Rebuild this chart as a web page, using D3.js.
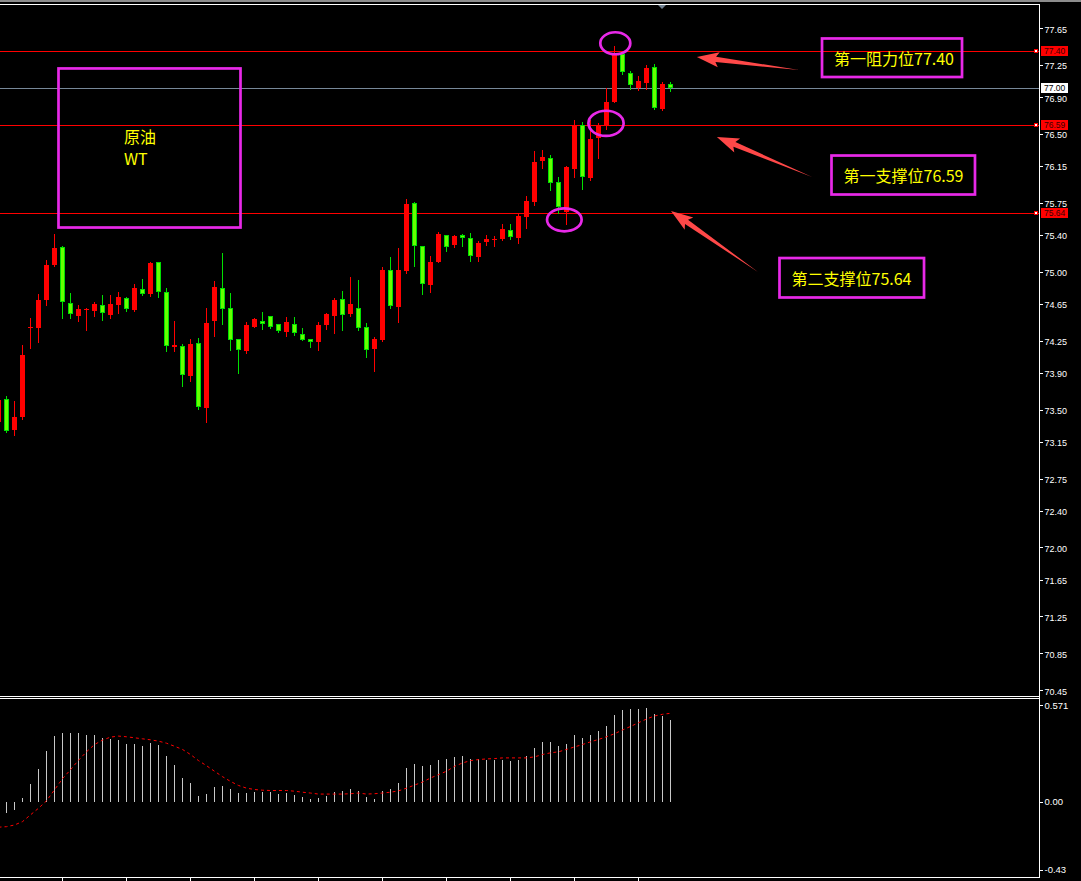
<!DOCTYPE html>
<html><head><meta charset="utf-8">
<script src="https://cdn.jsdelivr.net/npm/d3@7"></script>
<style>html,body{margin:0;padding:0;background:#000;overflow:hidden}</style>
</head><body><svg id="c" width="1081" height="881"></svg>
<script>
// ---------- DATA ----------
const firstBar = -1;
const opens  = [73.36,73.61,73.28,73.42,74.39,74.39,74.69,75.07,75.27,74.66,74.52,74.58,74.57,74.64,74.53,74.64,74.71,74.58,74.81,74.76,75.10,74.78,74.18,74.19,73.87,74.22,73.52,74.46,74.82,74.60,74.27,74.14,74.40,74.46,74.52,74.43,74.34,74.43,74.32,74.27,74.24,74.42,74.52,74.70,74.54,74.61,74.40,74.16,74.26,75.02,74.62,75.01,75.75,75.28,74.85,75.11,75.40,75.29,75.40,75.37,75.16,75.32,75.34,75.35,75.45,75.37,75.59,75.76,76.20,76.24,75.97,75.65,76.12,76.60,76.02,76.45,76.58,76.85,77.37,77.16,77.00,77.05,77.23,76.77,77.04];
const highs  = [73.63,73.65,73.59,74.20,74.50,74.76,75.13,75.41,75.28,74.77,74.64,74.61,74.67,74.75,74.75,74.78,74.72,74.87,74.92,75.10,75.11,74.82,74.46,74.21,74.27,74.28,74.60,74.90,75.20,74.77,74.27,74.45,74.50,74.56,74.52,74.43,74.51,74.51,74.39,74.27,74.45,74.55,74.71,74.79,74.94,74.91,74.44,74.29,75.05,75.16,75.26,75.79,75.76,75.28,75.17,75.43,75.40,75.40,75.41,75.42,75.33,75.40,75.39,75.52,75.52,75.63,75.82,76.31,76.32,76.27,76.03,76.15,76.65,76.63,76.65,76.62,77.00,77.45,77.38,77.18,77.13,77.25,77.26,77.06,77.06];
const lows   = [73.34,73.26,73.22,73.40,74.17,74.24,74.64,75.06,74.50,74.50,74.46,74.37,74.52,74.47,74.50,74.55,74.57,74.57,74.75,74.73,74.72,74.14,74.14,73.76,73.81,73.51,73.37,74.30,74.43,74.15,73.90,74.12,74.40,74.38,74.39,74.34,74.30,74.31,74.26,74.18,74.15,74.38,74.33,74.36,74.52,74.37,74.07,73.92,74.25,74.61,74.45,74.98,75.06,74.76,74.78,75.10,75.23,75.27,75.28,75.12,75.12,75.29,75.28,75.34,75.35,75.31,75.47,75.72,76.13,75.89,75.64,75.52,76.03,75.90,76.00,76.24,76.55,76.85,77.15,76.99,76.98,76.99,76.77,76.76,76.97];
const closes = [73.60,73.27,73.42,74.09,74.40,74.69,75.07,75.26,74.67,74.54,74.59,74.59,74.65,74.55,74.65,74.72,74.59,74.82,74.76,75.09,74.78,74.19,74.20,73.88,74.21,73.53,74.44,74.83,74.59,74.26,74.15,74.42,74.49,74.43,74.40,74.35,74.45,74.33,74.26,74.23,74.42,74.54,74.69,74.53,74.65,74.39,74.15,74.27,75.02,74.63,75.02,75.74,75.28,74.87,75.10,75.41,75.27,75.39,75.37,75.17,75.31,75.35,75.35,75.46,75.38,75.60,75.77,76.19,76.25,75.96,75.70,76.14,76.59,76.03,76.44,76.58,76.85,77.36,77.17,77.03,77.07,77.22,76.78,77.04,77.00];
const macdHist = [null,-0.071,-0.048,0.022,0.105,0.194,0.296,0.385,0.403,0.403,0.403,0.391,0.391,0.373,0.367,0.361,0.343,0.343,0.331,0.349,0.337,0.272,0.218,0.141,0.111,0.034,0.046,0.087,0.093,0.075,0.052,0.052,0.058,0.058,0.058,0.046,0.052,0.040,0.028,0.016,0.022,0.034,0.058,0.064,0.075,0.064,0.028,0.016,0.064,0.075,0.111,0.200,0.224,0.212,0.218,0.248,0.254,0.266,0.272,0.254,0.254,0.248,0.248,0.248,0.242,0.248,0.272,0.319,0.355,0.355,0.331,0.343,0.391,0.373,0.391,0.415,0.444,0.510,0.540,0.546,0.546,0.551,0.516,0.504,0.480];
const macdSignal = [-0.152,-0.149,-0.139,-0.119,-0.079,-0.040,0.004,0.069,0.135,0.188,0.244,0.294,0.337,0.363,0.381,0.387,0.383,0.377,0.371,0.365,0.357,0.345,0.327,0.308,0.278,0.242,0.212,0.179,0.147,0.119,0.095,0.079,0.071,0.067,0.065,0.065,0.065,0.061,0.055,0.050,0.044,0.044,0.044,0.044,0.046,0.050,0.044,0.046,0.050,0.055,0.063,0.079,0.097,0.115,0.139,0.159,0.179,0.208,0.228,0.242,0.248,0.252,0.254,0.258,0.258,0.258,0.258,0.264,0.278,0.288,0.294,0.308,0.323,0.337,0.353,0.367,0.383,0.401,0.423,0.444,0.466,0.488,0.506,0.516,0.522];
const priceTicks = [77.65,77.25,76.90,76.50,76.15,75.75,75.40,75.00,74.65,74.25,73.90,73.50,73.15,72.75,72.40,72.00,71.65,71.25,70.85,70.45];
const macdTicks = [0.571, 0, -0.43];
const macdTickLabels = ["0.571","0.00","-0.43"];
const levels = [77.40, 77.00, 76.59, 75.64];
const levelKinds = ["line","last","line","line"];
const noteTexts = ["第一阻力位77.40","第一支撑位76.59","第二支撑位75.64"];
const titleLines = ["原油","WT"];
const timeTickBars = [7,15,23,31,39,47,55,63,71,79];

// annotation anchors in data space (bar index, price)
const noteBoxes = [
  {i0:101.94,p0:77.536,i1:119.44,p1:77.117},
  {i0:103.125,p0:76.263,i1:121.06,p1:75.839},
  {i0:96.625,p0:75.148,i1:114.69,p1:74.719}
];
const titleBox = {i0:6.5,p0:77.21,i1:29.25,p1:75.48};
const titleAnchor = [{i:14.69,p:76.40},{i:14.69,p:76.16}];
const ellipses = [
  {i:76.1,p:77.484,rx:15,ry:11},
  {i:74.94,p:76.613,rx:17.6,ry:12.6},
  {i:69.73,p:75.564,rx:17.3,ry:11.5}
];
const arrows = [
  {ti:86.3,tp:77.335,si:99.06,sp:77.193},
  {ti:88.8,tp:76.464,si:100.7,sp:76.03},
  {ti:83.06,tp:75.66,si:93.94,sp:74.996}
];

// ---------- LAYOUT ----------
const W=1081, H=881, axisX=1039, mainTop=4.5, mainBot=696.5, subTop=698.5, subBot=877.5;
const MAG="#e829e8", YEL="#ffff00", RED="#ff0000", GRN_O="#00e000", GRN_F="#66ff00";
const svg=d3.select("#c");
svg.append("rect").attr("width",W).attr("height",H).attr("fill","#000");
svg.append("rect").attr("width",W).attr("height",2).attr("fill","#8c8c8c");

const x=d3.scaleLinear().domain([0,83]).range([6.5,670.5]);
const y=d3.scaleLinear().domain([70.45,77.65]).range([690,28]);
const m=d3.scaleLinear().domain([0,0.571]).range([801.5,705]);

const defs=svg.append("defs");
defs.append("clipPath").attr("id","cm").append("rect").attr("x",0).attr("y",5).attr("width",axisX).attr("height",691);
defs.append("clipPath").attr("id","cs").append("rect").attr("x",0).attr("y",699).attr("width",axisX).attr("height",178);

// frames
const fr=svg.append("g").attr("stroke","#fff").attr("shape-rendering","crispEdges");
fr.append("line").attr("x1",0).attr("x2",axisX+0.5).attr("y1",mainTop).attr("y2",mainTop);
fr.append("line").attr("x1",0).attr("x2",axisX+0.5).attr("y1",mainBot).attr("y2",mainBot);
fr.append("line").attr("x1",0).attr("x2",axisX+0.5).attr("y1",subTop).attr("y2",subTop);
fr.append("line").attr("x1",0).attr("x2",axisX+0.5).attr("y1",subBot).attr("y2",subBot);
fr.append("line").attr("x1",axisX+0.5).attr("x2",axisX+0.5).attr("y1",mainTop).attr("y2",subBot);
fr.selectAll("line.tt").data(timeTickBars).join("line").attr("class","tt")
  .attr("x1",d=>x(d)).attr("x2",d=>x(d)).attr("y1",subBot).attr("y2",H);

// shift marker
svg.append("path").attr("d","M658,5L666,5L662,9Z").attr("fill","#708090");

const gm=svg.append("g").attr("clip-path","url(#cm)");

// level lines
gm.selectAll("line.lv").data(levels).join("line").attr("class","lv")
  .attr("x1",0).attr("x2",axisX).attr("y1",d=>Math.round(y(d))+0.5).attr("y2",d=>Math.round(y(d))+0.5)
  .attr("stroke",(d,k)=>levelKinds[k]==="last"?"#778899":RED).attr("shape-rendering","crispEdges");

// candles
const bars=d3.range(opens.length).map(k=>({i:firstBar+k,o:opens[k],h:highs[k],l:lows[k],c:closes[k]}));
const cg=gm.append("g").attr("shape-rendering","crispEdges");
cg.selectAll("line.wk").data(bars).join("line").attr("class","wk")
  .attr("x1",d=>x(d.i)).attr("x2",d=>x(d.i))
  .attr("y1",d=>Math.round(y(d.h))).attr("y2",d=>Math.round(y(d.l))+1)
  .attr("stroke",d=>d.c>=d.o?RED:GRN_O);
const bt=d=>Math.round(y(Math.max(d.o,d.c)));
const bh=d=>Math.max(1,Math.round(y(Math.min(d.o,d.c)))-bt(d));
cg.selectAll("rect.bo").data(bars).join("rect").attr("class","bo")
  .attr("x",d=>x(d.i)-2.5).attr("width",5).attr("y",bt).attr("height",bh)
  .attr("fill",d=>d.c>=d.o?RED:GRN_O);
cg.selectAll("rect.bi").data(bars.filter(d=>d.c<d.o&&bh(d)>2)).join("rect").attr("class","bi")
  .attr("x",d=>x(d.i)-1.5).attr("width",3).attr("y",d=>bt(d)+1).attr("height",d=>bh(d)-2)
  .attr("fill",GRN_F);

// annotations
const an=gm.append("g");
const rectOf=b=>({x:x(b.i0),y:y(b.p0),w:x(b.i1)-x(b.i0),h:y(b.p1)-y(b.p0)});
[titleBox,...noteBoxes].forEach(b=>{const r=rectOf(b);
  an.append("rect").attr("x",r.x).attr("y",r.y).attr("width",r.w).attr("height",r.h)
    .attr("fill","none").attr("stroke",MAG).attr("stroke-width",2.7);});
an.selectAll("text.tl").data(titleLines).join("text").attr("class","tl")
  .attr("x",(d,k)=>x(titleAnchor[k].i)).attr("y",(d,k)=>y(titleAnchor[k].p))
  .attr("fill",YEL).attr("font-family","'Noto Sans CJK SC','Noto Sans',sans-serif").attr("font-size",16).text(d=>d);
an.selectAll("text.nt").data(noteTexts).join("text").attr("class","nt")
  .attr("x",(d,k)=>x(noteBoxes[k].i0)+12).attr("y",(d,k)=>y(noteBoxes[k].p0)+26.5)
  .attr("fill",YEL).attr("font-family","'Noto Sans CJK SC','Noto Sans',sans-serif").attr("font-size",16).text(d=>d);
an.selectAll("ellipse").data(ellipses).join("ellipse")
  .attr("cx",d=>x(d.i)).attr("cy",d=>y(d.p)).attr("rx",d=>d.rx).attr("ry",d=>d.ry)
  .attr("fill","none").attr("stroke",MAG).attr("stroke-width",2.7);
an.selectAll("path.ar").data(arrows).join("path").attr("class","ar")
  .attr("d",a=>{
    const tx=x(a.ti),ty=y(a.tp),sx=x(a.si),sy=y(a.sp);
    const L=Math.hypot(tx-sx,ty-sy),dx=(tx-sx)/L,dy=(ty-sy)/L,nx=-dy,ny=dx;
    const hl=19,hw=7.5,sw=2.6;
    const bx=tx-dx*hl,by=ty-dy*hl;
    const p=[[sx,sy],[bx+nx*sw,by+ny*sw],[bx+nx*hw-dx*3,by+ny*hw-dy*3],[tx,ty],[bx-nx*hw-dx*3,by-ny*hw-dy*3],[bx-nx*sw,by-ny*sw]];
    return "M"+p.map(q=>q[0].toFixed(1)+","+q[1].toFixed(1)).join("L")+"Z";
  }).attr("fill","#ff4848");

// price axis
const ax=svg.append("g").attr("transform",`translate(${axisX+0.5},0)`)
  .call(d3.axisRight(y).tickValues(priceTicks).tickSize(3).tickPadding(2).tickFormat(d3.format(".2f")));
ax.select(".domain").remove();
ax.selectAll("line").attr("stroke","#fff").attr("shape-rendering","crispEdges");
ax.selectAll("text").attr("fill","#fff").attr("font-family","'Liberation Sans',Arial,sans-serif").attr("font-size","9px")
  .attr("dy","0.45em");

// level tags
const tg=svg.append("g");
levels.forEach((lv,k)=>{
  const yy=Math.round(y(lv));
  const last=levelKinds[k]==="last";
  if(!last){
    tg.append("rect").attr("x",1034.5).attr("y",yy-1.5).attr("width",3).attr("height",3)
      .attr("fill","#fff").attr("stroke",RED).attr("shape-rendering","crispEdges");
  }
  tg.append("rect").attr("x",1041).attr("y",yy-5).attr("width",27).attr("height",10)
    .attr("fill",last?"#fff":RED);
  tg.append("text").attr("x",1044).attr("y",yy+3).attr("fill",last?"#000":"#3a0000")
    .attr("font-family","'Liberation Sans',Arial,sans-serif").attr("font-size","8.5px").text(d3.format(".2f")(lv));
});

// MACD
const gs=svg.append("g").attr("clip-path","url(#cs)");
const mb=d3.range(macdHist.length).map(k=>({i:firstBar+k,h:macdHist[k],s:macdSignal[k]}));
gs.selectAll("line.hb").data(mb.filter(d=>d.h!==null)).join("line").attr("class","hb")
  .attr("x1",d=>x(d.i)).attr("x2",d=>x(d.i)).attr("y1",m(0)).attr("y2",d=>m(d.h))
  .attr("stroke","#c8c8c8").attr("shape-rendering","crispEdges");
gs.append("path").datum(mb).attr("d",d3.line().x(d=>x(d.i)).y(d=>m(d.s)))
  .attr("fill","none").attr("stroke",RED).attr("stroke-width",1).attr("stroke-dasharray","3,3");
const mx=svg.append("g").attr("transform",`translate(${axisX+0.5},0)`)
  .call(d3.axisRight(m).tickValues(macdTicks).tickSize(3).tickPadding(2).tickFormat((d,k)=>macdTickLabels[k]));
mx.select(".domain").remove();
mx.selectAll("line").attr("stroke","#fff").attr("shape-rendering","crispEdges");
mx.selectAll("text").attr("fill","#fff").attr("font-family","'Liberation Sans',Arial,sans-serif").attr("font-size","9.5px");
// keep the bottom label inside the panel, as the terminal does
mx.selectAll(".tick").filter(d=>d<0).attr("transform",`translate(0,${m(-0.43)-4})`);
</script></body></html>
